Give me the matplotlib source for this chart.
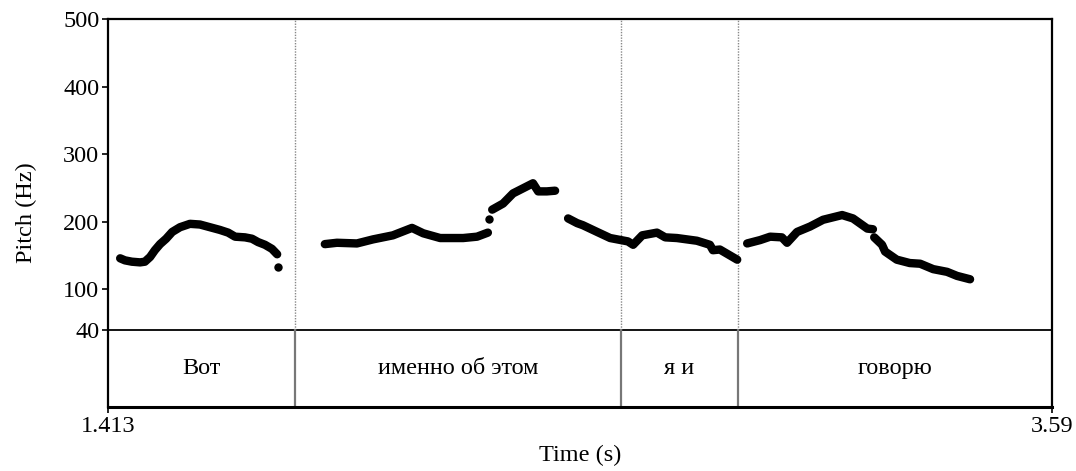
import matplotlib
matplotlib.use('Agg')
import matplotlib.pyplot as plt
import matplotlib.transforms as mtransforms

plt.rcParams['font.family'] = ['Liberation Serif', 'DejaVu Serif']

# Pitch contour (time in s, pitch in Hz), one list per voiced stretch
seg1_t = [1.441, 1.452, 1.468, 1.487, 1.498, 1.510, 1.521, 1.533, 1.547, 1.561, 1.579, 1.602,
          1.625, 1.648, 1.671, 1.690, 1.706, 1.729, 1.745, 1.759, 1.775, 1.791, 1.803]
seg1_f = [146, 143, 141, 140, 141, 148, 158, 167, 175, 185, 192, 197,
          196, 192, 188, 184, 178, 177, 175, 170, 166, 160, 152]
seg2_t = [1.913, 1.941, 1.987, 2.024, 2.070, 2.114, 2.140, 2.179, 2.232, 2.264, 2.289]
seg2_f = [167, 169, 168, 174, 180, 191, 183, 176, 176, 178, 184]
seg3_t = [2.299, 2.324, 2.347, 2.393, 2.405, 2.425, 2.444]
seg3_f = [218, 227, 242, 257, 245, 245, 246]
seg4_t = [2.474, 2.495, 2.508, 2.541, 2.571, 2.612, 2.624, 2.645, 2.679, 2.698, 2.725,
          2.771, 2.801, 2.808, 2.824, 2.864]
seg4_f = [205, 198, 195, 185, 176, 171, 166, 180, 184, 177, 176,
          172, 166, 158, 159, 144]
seg5_t = [2.887, 2.917, 2.940, 2.967, 2.979, 3.002, 3.032, 3.062, 3.106, 3.131, 3.164, 3.177]
seg5_f = [168, 173, 178, 177, 169, 185, 193, 203, 210, 205, 190, 189]
seg6_t = [3.180, 3.198, 3.205, 3.232, 3.262, 3.286, 3.316, 3.348, 3.371, 3.401]
seg6_f = [177, 166, 156, 144, 139, 138, 130, 126, 120, 115]
lone_t = [1.806, 2.292]
lone_f = [133, 204]

# Word tier
t_start, t_end = 1.413, 3.59
boundaries = [1.844, 2.596, 2.866]
words = ['Вот', 'именно об этом', 'я и', 'говорю']
y_ticks = [40, 100, 200, 300, 400, 500]

fig = plt.figure(figsize=(10.76, 4.71), dpi=100)
ax = fig.add_axes([0.1004, 0.1359, 0.8773, 0.8238])

f_min, f_max = 40, 500
tier_depth = 113.9  # tier height expressed in Hz units of the pitch scale
ax.set_xlim(t_start, t_end)
ax.set_ylim(f_min - tier_depth, f_max)

fs_txt = 17.5
dot = 8.4 * 72 / 100  # dot diameter in points
for ts, fs in [(seg1_t, seg1_f), (seg2_t, seg2_f), (seg3_t, seg3_f),
               (seg4_t, seg4_f), (seg5_t, seg5_f), (seg6_t, seg6_f)]:
    ax.plot(ts, fs, color='black', lw=dot, solid_capstyle='round',
            solid_joinstyle='round', zorder=3)
ax.plot(lone_t, lone_f, 'o', color='black', ms=dot, mec='none', zorder=3)

# tier
ax.axhline(f_min, color='black', lw=1.3)
for b in boundaries:
    ax.plot([b, b], [f_min, f_max], color='#888888', lw=1.0, ls=(0, (1, 1)))
    ax.plot([b, b], [f_min - tier_depth, f_min], color='#777777', lw=1.6)

edges = [t_start] + boundaries + [t_end]
trans = mtransforms.blended_transform_factory(ax.transData, ax.transData)
for i, w in enumerate(words):
    ax.text((edges[i] + edges[i + 1]) / 2, f_min - tier_depth / 2, w,
            ha='center', va='center', fontsize=fs_txt, transform=trans)

ax.set_yticks(y_ticks)
ax.set_yticklabels([str(v) for v in y_ticks])
ax.set_xticks([t_start, t_end])
ax.set_xticklabels(['1.413', '3.59'])
ax.tick_params(direction='out', length=6 * 72 / 100, width=1.2, labelsize=fs_txt, pad=2)

for s in ax.spines.values():
    s.set_linewidth(1.6)
ax.spines['bottom'].set_linewidth(2.2)

ax.set_xlabel('Time (s)', fontsize=fs_txt, labelpad=6)
ax.set_ylabel('Pitch (Hz)', fontsize=fs_txt, labelpad=19)

fig.savefig('out.png', dpi=100)
